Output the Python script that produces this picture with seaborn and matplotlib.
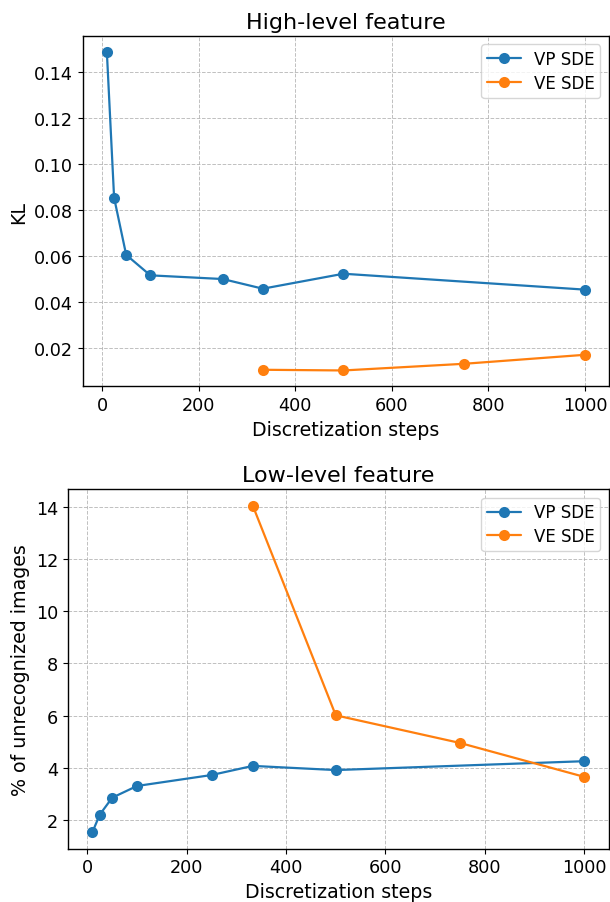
import matplotlib
matplotlib.use("Agg")
import matplotlib.pyplot as plt
import seaborn as sns
import pandas as pd

steps_vp = [10, 25, 50, 100, 250, 333, 500, 1000]
steps_ve = [333, 500, 750, 1000]
high_vp = [0.1485, 0.0852, 0.0604, 0.0515, 0.0499, 0.0457, 0.0522, 0.0453]
high_ve = [0.0105, 0.0102, 0.0131, 0.0170]
low_vp = [1.52, 2.20, 2.85, 3.30, 3.72, 4.07, 3.91, 4.25]
low_ve = [14.05, 6.01, 4.95, 3.65]
series_names = ["VP SDE", "VE SDE"]
colors = ["#1f77b4", "#ff7f0e"]

sns.set_style("ticks")
plt.rcParams["font.family"] = ["DejaVu Sans"]
plt.rcParams.update({"text.color": "black", "axes.labelcolor": "black",
                     "xtick.color": "black", "ytick.color": "black",
                     "axes.edgecolor": "black"})

fig = plt.figure(figsize=(6.1, 9.03), dpi=100)
ax1 = fig.add_axes([0.136, 0.571, 0.862, 0.388])
ax2 = fig.add_axes([0.111, 0.059, 0.887, 0.398])

def draw(ax, yvp, yve, title, ylabel):
    for xs, ys, name, c in [(steps_vp, yvp, series_names[0], colors[0]),
                            (steps_ve, yve, series_names[1], colors[1])]:
        df = pd.DataFrame({"x": xs, "y": ys})
        sns.lineplot(data=df, x="x", y="y", ax=ax, color=c, label=name,
                     marker="o", markersize=8, markeredgewidth=0, linewidth=1.6)
    ax.set_title(title, fontsize=16, color="black")
    ax.set_xlabel("Discretization steps", fontsize=13.7)
    ax.set_ylabel(ylabel, fontsize=13.7)
    ax.tick_params(labelsize=12.7)
    ax.grid(True, linestyle="--", color="#b0b0b0", linewidth=0.7, alpha=0.8)
    ax.set_axisbelow(True)
    for s in ax.spines.values():
        s.set_linewidth(1.0)
        s.set_color("black")
    ax.legend(loc="upper right", fontsize=12, framealpha=0.8,
              labelspacing=0.35, borderpad=0.35)

draw(ax1, high_vp, high_ve, "High-level feature", "KL")
draw(ax2, low_vp, low_ve, "Low-level feature", "% of unrecognized images")
ax1.set_yticks([0.02, 0.04, 0.06, 0.08, 0.10, 0.12, 0.14])
ax2.set_yticks([2, 4, 6, 8, 10, 12, 14])

fig.savefig("out.png", dpi=100)
